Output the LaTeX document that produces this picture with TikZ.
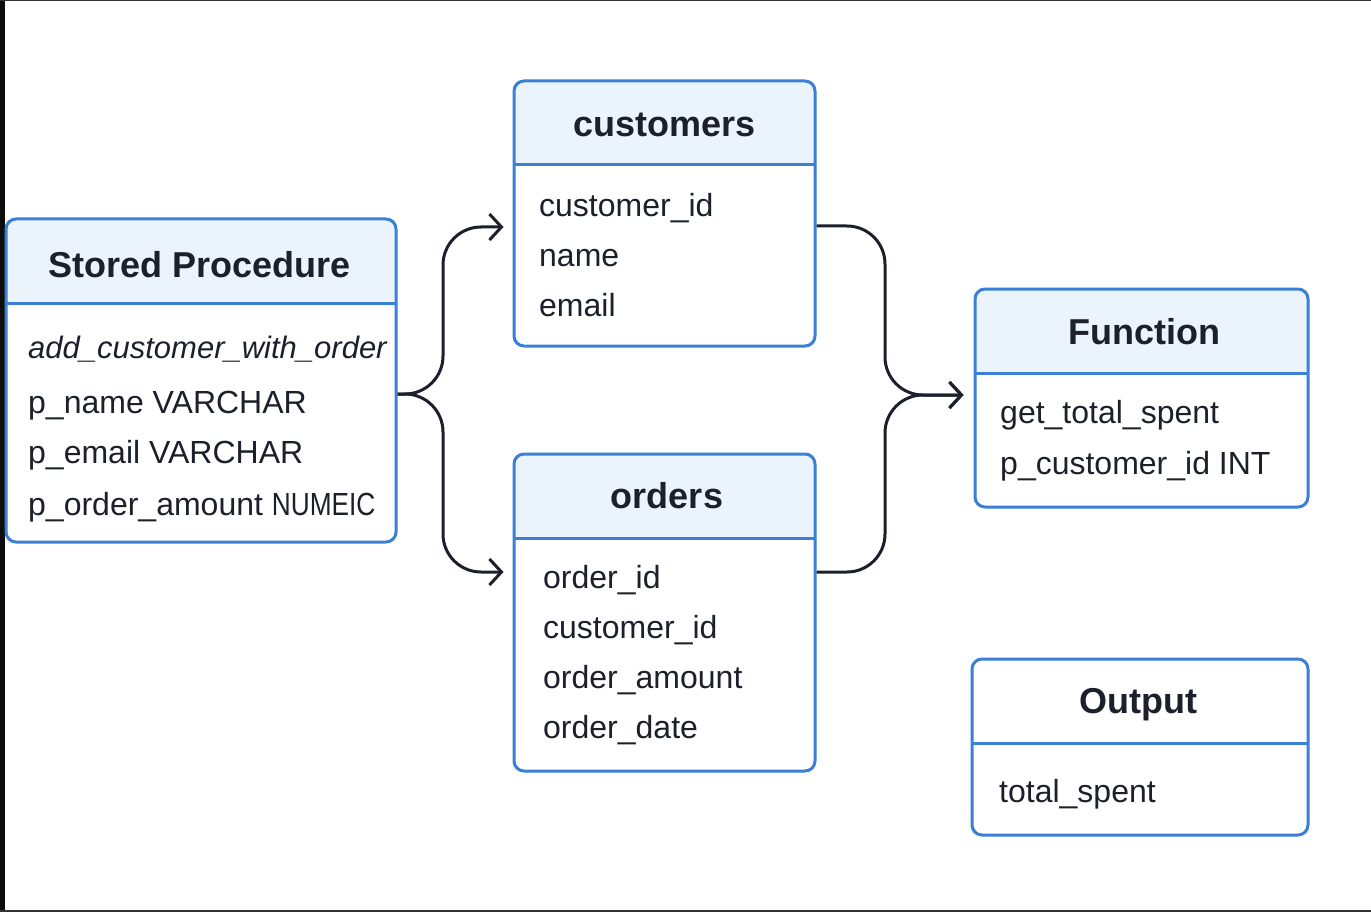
\documentclass[tikz,border=0pt]{standalone}
\usepackage{fontspec}
\setmainfont{Liberation Sans}
\usepackage{graphicx}
\usetikzlibrary{arrows.meta,calc}

\definecolor{boxblue}{RGB}{59,128,212}
\definecolor{headfill}{RGB}{235,244,253}
\definecolor{ink}{RGB}{27,32,42}

\tikzset{
  table/.style={draw=boxblue, line width=3pt, rounded corners=10pt, fill=white, inner sep=0pt},
  head/.style={path picture={
      \fill[#1, sharp corners] (path picture bounding box.north west) rectangle ([yshift=-84pt]path picture bounding box.north east);
      \draw[boxblue, line width=3pt] ([yshift=-84pt]path picture bounding box.north west) -- ([yshift=-84pt]path picture bounding box.north east);}},
  title/.style={font=\fontsize{36}{40}\selectfont\bfseries, text=ink, anchor=base},
  field/.style={font=\fontsize{32}{36}\selectfont, text=ink, anchor=base west, inner sep=0pt},
  flow/.style={draw=ink, line width=3pt, rounded corners=38pt, -{Straight Barb[length=12pt,width=26pt]}}
}

\begin{document}
\begin{tikzpicture}[x=1pt, y=-1pt]
  \fill[white] (0,0) rectangle (1371,912);
  \useasboundingbox (0,0) rectangle (1371,912);
  \fill[black!95] (0,0) rectangle (5,912);
  \draw[black!80, line width=1pt] (0,0.5) -- (1371,0.5);
  \draw[black!80, line width=2pt] (0,911) -- (1371,911);

  % tables
  \node[table, head=headfill, minimum width=390pt, minimum height=323pt] (proc) at (201,380.5) {};
  \node[table, head=headfill, minimum width=301pt, minimum height=265pt] (customers) at (664.5,213.5) {};
  \node[table, head=headfill, minimum width=301pt, minimum height=317pt] (orders) at (664.5,612.5) {};
  \node[table, head=headfill, minimum width=333pt, minimum height=218pt] (func) at (1141.5,398) {};
  \node[table, head=white, minimum width=336pt, minimum height=176pt] (output) at (1140,747) {};

  % titles
  \node[title] (proc-title) at (200,277) {Stored Procedure};
  \node[title] (customers-title) at (664.5,137) {customers};
  \node[title] (orders-title) at (667,508) {orders};
  \node[title] (func-title) at (1144,344) {Function};
  \node[title] (output-title) at (1138,713) {Output};

  % fields
  \node[field, font=\fontsize{31}{36}\selectfont\itshape] (proc-name) at (28,358) {add\_customer\_with\_order};
  \node[field] (proc-p1) at (28,413) {p\_name VARCHAR};
  \node[field] (proc-p2) at (28,463) {p\_email VARCHAR};
  \node[field] (proc-p3) at (28,515) {p\_order\_amount \scalebox{0.82}[1]{NUMEIC}};

  \node[field] (customers-f1) at (539,217) {customer\_id};
  \node[field] (customers-f2) at (539,266) {name};
  \node[field] (customers-f3) at (539,316) {email};

  \node[field] (orders-f1) at (543,588) {order\_id};
  \node[field] (orders-f2) at (543,638) {customer\_id};
  \node[field] (orders-f3) at (543,688) {order\_amount};
  \node[field] (orders-f4) at (543,738) {order\_date};

  \node[field] (func-f1) at (1000,423) {get\_total\_spent};
  \node[field] (func-f2) at (1000,474) {p\_customer\_id INT};

  \node[field] (output-f1) at (999,802) {total\_spent};

  % connectors
  \coordinate (procout) at ($(proc.east)+(0,13.5)$);
  \coordinate (custin) at ($(customers.west)+(-9,13.5)$);
  \coordinate (ordin) at ($(orders.west)+(-9,-40.5)$);
  \coordinate (custout) at ($(customers.east)+(0,12.5)$);
  \coordinate (ordout) at ($(orders.east)+(0,-40.5)$);
  \coordinate (funcin) at ($(func.west)+(-10,-3)$);
  \coordinate (lbus) at (443,0);
  \coordinate (rbus) at (885,0);

  \draw[flow] (procout) -| (lbus |- custin) -- (custin);
  \draw[flow] (procout) -| (lbus |- ordin) -- (ordin);
  \draw[flow] (custout) -| (rbus |- funcin) -- (funcin);
  \draw[flow] (ordout) -| (rbus |- funcin) -- (funcin);
\end{tikzpicture}
\end{document}
